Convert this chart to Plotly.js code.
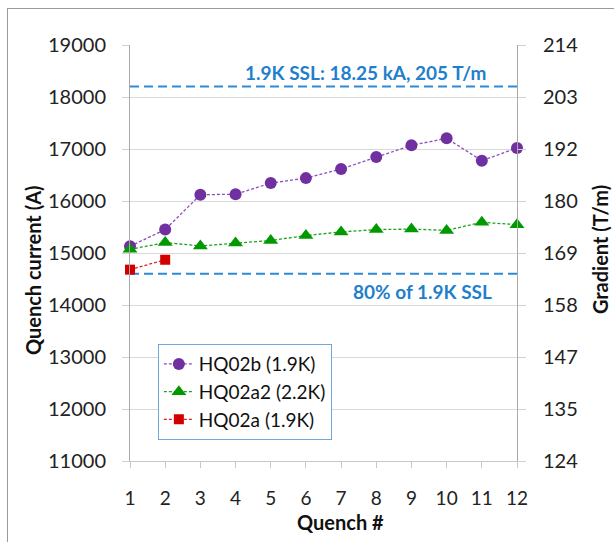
<!DOCTYPE html>
<html>
<head>
<meta charset="utf-8">
<script src="https://cdn.plot.ly/plotly-3.0.1.min.js"></script>
<style>
  html, body { margin: 0; padding: 0; background: #ffffff; }
  #frame { position: absolute; left: 7px; top: 8px; width: 700px; height: 600px;
           border-left: 1.5px solid #9a9a9a; border-top: 1.5px solid #9a9a9a; }
  #chart { position: absolute; left: 0; top: 0; width: 614px; height: 542px; }
</style>
</head>
<body>
<div id="frame"></div>
<div id="chart"></div>
<script>
// ---- data ----
const quench = [1, 2, 3, 4, 5, 6, 7, 8, 9, 10, 11, 12];
const hq02b  = [15130, 15450, 16120, 16130, 16345, 16440, 16615, 16845, 17070, 17205, 16775, 17020];
const hq02a2 = [15070, 15200, 15135, 15190, 15240, 15335, 15405, 15450, 15460, 15435, 15590, 15545];
const hq02aX = [1, 2];
const hq02a  = [14680, 14870];
const sslX   = [1, 12];
const ssl19  = [18200, 18200];
const ssl80  = [14600, 14600];
const currentTicks  = [11000, 12000, 13000, 14000, 15000, 16000, 17000, 18000, 19000];
const gradientTicks = ['124', '135', '147', '158', '169', '180', '192', '203', '214'];
const seriesNames = ['HQ02b (1.9K)', 'HQ02a2 (2.2K)', 'HQ02a (1.9K)'];
const sslLabel = '1.9K SSL: 18.25 kA, 205 T/m';
const ssl80Label = '80% of 1.9K SSL';
const xTitle = 'Quench #';
const yTitle = 'Quench current (A)';
const y2Title = 'Gradient (T/m)';

const FONT = 'Lato, "Open Sans", sans-serif';
const BLUE = '#2f8ad6';
const BLUE_TXT = '#1f7fcc';

const traces = [
  { x: sslX, y: ssl19, mode: 'lines', showlegend: false, hoverinfo: 'skip', yaxis: 'y',
    line: { color: BLUE, width: 2, dash: '9px,5px' } },
  { x: sslX, y: ssl80, mode: 'lines', showlegend: false, hoverinfo: 'skip', yaxis: 'y',
    line: { color: BLUE, width: 2, dash: '9px,5px' } },
  { x: quench, y: hq02b, name: seriesNames[0], mode: 'lines+markers', cliponaxis: false, yaxis: 'y2',
    line: { color: '#8a4fc0', width: 1.3, dash: '3px,2px' },
    marker: { symbol: 'circle', size: 12, color: '#7030a0' } },
  { x: quench, y: hq02a2, name: seriesNames[1], mode: 'lines+markers', cliponaxis: false, yaxis: 'y2',
    line: { color: '#1aa51a', width: 1.3, dash: '3px,2px' },
    marker: { symbol: 'triangle-up', size: 13, color: '#009a00' } },
  { x: hq02aX, y: hq02a, name: seriesNames[2], mode: 'lines+markers', cliponaxis: false, yaxis: 'y2',
    line: { color: '#e02020', width: 1.3, dash: '3px,2px' },
    marker: { symbol: 'square', size: 10, color: '#d00000' } }
];

const titleFont = { family: FONT, size: 20, color: '#111111' };

const layout = {
  width: 614, height: 542,
  margin: { l: 130, r: 97, t: 45, b: 81 },
  paper_bgcolor: 'rgba(0,0,0,0)',
  plot_bgcolor: 'rgba(0,0,0,0)',
  font: { family: FONT, color: '#222222' },
  showlegend: true,
  legend: {
    x: 0.072, y: 0.281, xanchor: 'left', yanchor: 'top',
    bgcolor: '#ffffff', bordercolor: '#6fa8dc', borderwidth: 1,
    font: { family: FONT, size: 19, color: '#111111' },
    tracegroupgap: 0
  },
  xaxis: {
    range: [1, 12], tickvals: quench, ticktext: quench.map(String),
    showgrid: false, zeroline: false,
    showline: true, linecolor: '#c8c8c8', linewidth: 1,
    ticks: 'outside', ticklen: 6, tickcolor: '#c8c8c8',
    tickfont: { family: FONT, size: 19, color: '#222222' },
    ticklabelstandoff: 14
  },
  yaxis: {
    range: [11000, 19000], tickvals: currentTicks, ticktext: currentTicks.map(String),
    showgrid: true, gridcolor: '#d9d9d9', gridwidth: 1, zeroline: false,
    showline: true, linecolor: '#a8a8a8', linewidth: 1,
    ticks: 'outside', ticklen: 7, tickcolor: '#d0d0d0',
    tickfont: { family: FONT, size: 20, color: '#222222' },
    ticklabelstandoff: 12
  },
  yaxis2: {
    overlaying: 'y', side: 'right', anchor: 'x',
    range: [11000, 19000], tickvals: currentTicks, ticktext: gradientTicks,
    showgrid: false, zeroline: false,
    showline: true, linecolor: '#a8a8a8', linewidth: 1,
    ticks: 'outside', ticklen: 8, tickcolor: '#d0d0d0',
    tickfont: { family: FONT, size: 20, color: '#222222' },
    ticklabelstandoff: 13
  },
  annotations: [
    { x: 7.71, y: 18467, xref: 'x', yref: 'y', text: '<b>' + sslLabel + '</b>', showarrow: false,
      xanchor: 'center', yanchor: 'middle', font: { family: FONT, size: 19, color: BLUE_TXT } },
    { x: 9.3, y: 14256, xref: 'x', yref: 'y', text: '<b>' + ssl80Label + '</b>', showarrow: false,
      xanchor: 'center', yanchor: 'middle', font: { family: FONT, size: 19, color: BLUE_TXT } },
    { x: 0.543, y: -0.1466, xref: 'paper', yref: 'paper', text: '<b>' + xTitle + '</b>', showarrow: false,
      xanchor: 'center', yanchor: 'middle', font: titleFont },
    { x: -0.2506, y: 0.459, xref: 'paper', yref: 'paper', text: '<b>' + yTitle + '</b>', showarrow: false,
      xanchor: 'center', yanchor: 'middle', textangle: -90, font: titleFont },
    { x: 1.2145, y: 0.507, xref: 'paper', yref: 'paper', text: '<b>' + y2Title + '</b>', showarrow: false,
      xanchor: 'center', yanchor: 'middle', textangle: -90, font: titleFont }
  ]
};

Plotly.newPlot('chart', traces, layout, { displayModeBar: false, staticPlot: true });
</script>
</body>
</html>
